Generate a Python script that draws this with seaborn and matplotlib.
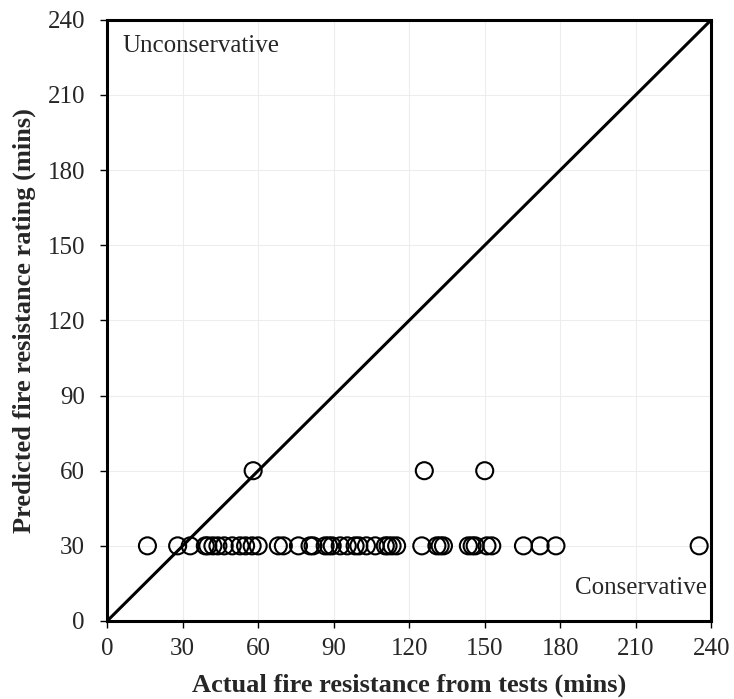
import matplotlib
matplotlib.use("Agg")
import matplotlib.pyplot as plt
import seaborn as sns
import pandas as pd

# Data
actual = [16, 28, 33, 39, 40, 42, 44, 46.5, 49.7, 52.8, 55, 57.6, 60, 68, 70, 76,
          80.6, 81.8, 86.6, 88, 89.4, 92.6, 95.4, 98.5, 100, 103, 106.5, 110.5,
          111.6, 113.2, 115, 125, 131, 132.3, 133.6, 143.5, 145, 146.2, 150.9,
          152.8, 165.4, 172, 178.3, 235.2,
          58, 126, 150]
predicted = [30] * 44 + [60, 60, 60]
ticks = [0, 30, 60, 90, 120, 150, 180, 210, 240]
line_x = [0, 240]
line_y = [0, 240]

df = pd.DataFrame({"actual": actual, "predicted": predicted})

sns.set_style("white")
plt.rcParams["font.family"] = ["Liberation Serif", "DejaVu Serif"]

fig = plt.figure(figsize=(7.34, 6.99), dpi=100)
ax = fig.add_axes([0.146, 0.1116, 0.823, 0.86])

ax.grid(True, color="#ededed", linewidth=0.8, zorder=0)
ax.set_axisbelow(True)

sns.lineplot(x=line_x, y=line_y, ax=ax, color="black", linewidth=2.2, zorder=2)
sns.scatterplot(data=df, x="actual", y="predicted", ax=ax, marker="o", s=150,
                facecolors="none", edgecolor="black", linewidth=1.5, zorder=3)

ax.set_xlim(0, 240)
ax.set_ylim(0, 240)
ax.set_xticks(ticks)
ax.set_yticks(ticks)
ax.tick_params(axis="both", direction="out", length=5, width=1, labelsize=18,
               bottom=True, left=True, color="black")
ax.tick_params(axis="y", pad=11)
ax.tick_params(axis="x", pad=7)
for sp in ax.spines.values():
    sp.set_linewidth(2.2)
    sp.set_color("black")

ax.set_xlabel("Actual fire resistance from tests (mins)", fontsize=19,
              fontweight="bold", labelpad=10)
ax.set_ylabel("Predicted fire resistance rating (mins)", fontsize=19,
              fontweight="bold", labelpad=8)

ax.text(6, 229.5, "Unconservative", fontsize=18, ha="left", va="center")
ax.text(238.3, 13, "Conservative", fontsize=18, ha="right", va="center")

fig.savefig("out.png", dpi=100)
